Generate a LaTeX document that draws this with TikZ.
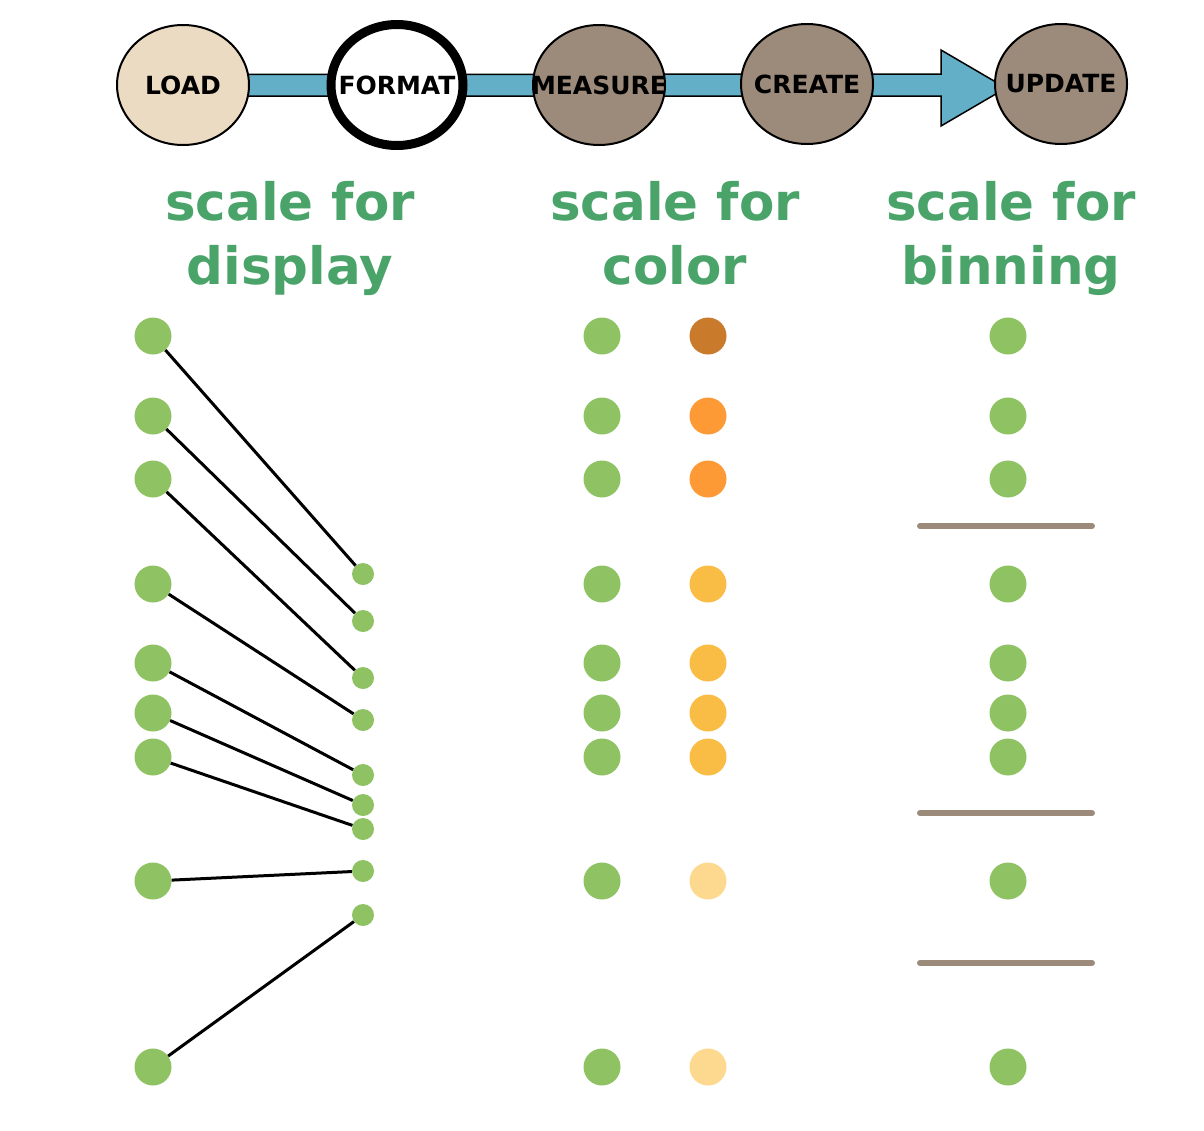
\documentclass[tikz,border=0pt]{standalone}
\usepackage{fontspec}
\setmainfont{DejaVu Sans}
\usetikzlibrary{shapes.geometric,backgrounds,calc}
\definecolor{dotgreen}{HTML}{8FC263}
\definecolor{txtgreen}{HTML}{4AA46A}
\definecolor{pipeblue}{HTML}{62AFC7}
\definecolor{loadfill}{HTML}{ECDBC3}
\definecolor{stagefill}{HTML}{9C8B7B}
\definecolor{binline}{HTML}{9C8B7B}
\definecolor{oA}{HTML}{C97A2A}
\definecolor{oB}{HTML}{FD9A36}
\definecolor{oC}{HTML}{F9BC45}
\definecolor{oD}{HTML}{FDD88F}
\newcommand{\zw}[1]{\makebox[0pt]{#1}}
\tikzset{
  stage/.style={ellipse, draw=black, line width=2pt, fill=stagefill, minimum width=132pt, minimum height=120pt, inner sep=0pt, font=\bfseries\fontsize{25}{25}\selectfont},
  bigdot/.style={circle, fill=dotgreen, minimum size=37pt, inner sep=0pt},
  smalldot/.style={circle, fill=dotgreen, minimum size=22pt, inner sep=0pt},
  cdot/.style={circle, minimum size=37pt, inner sep=0pt},
  link/.style={line width=3pt, black},
  binsep/.style={line width=6pt, binline, line cap=round},
  heading/.style={text=txtgreen, font=\bfseries\fontsize{51.5}{64}\selectfont, align=center}
}
\begin{document}
\begin{tikzpicture}[x=1pt,y=-1pt]
\useasboundingbox (0,0) rectangle (1204,1130);
% pipeline
\node[stage, fill=loadfill] (LOAD) at (183,85) {\zw{LOAD}};
\node[stage, fill=white, line width=9pt, minimum width=132pt, minimum height=121pt] (FORMAT) at (397,85) {\zw{FORMAT}};
\node[stage] (MEASURE) at (599,85) {\zw{MEASURE}};
\node[stage] (CREATE) at (807,84) {\zw{CREATE}};
\node[stage] (UPDATE) at (1061,84) {\zw{UPDATE}};
\begin{scope}[on background layer]
\filldraw[fill=pipeblue, draw=black, line width=1.5pt, line join=miter]
  ($(LOAD.center)+(0,-10.5)$) -- ($(UPDATE.west)+(-53,-10)$) -- ($(UPDATE.west)+(-53,-34)$)
  -- ($(UPDATE.west)+(12,4)$) -- ($(UPDATE.west)+(-53,42)$) -- ($(UPDATE.west)+(-53,12)$)
  -- ($(LOAD.center)+(0,11)$) -- cycle;
\end{scope}
% headings
\node[heading] (h1) at (290,238) {scale for\\display};
\node[heading] (h2) at (675,238) {scale for\\color\vphantom{y}};
\node[heading] (h3) at (1011,238) {scale for\\binning};
% dots
\foreach \i/\y in {1/336,2/416,3/479,4/584,5/663,6/713,7/757,8/881,9/1067}{
  \node[bigdot] (L\i) at (153,\y) {};
  \node[bigdot] (M\i) at (602,\y) {};
  \node[bigdot] (B\i) at (1008,\y) {};
}
\foreach \i/\y in {1/574,2/621,3/678,4/720,5/775,6/805,7/829,8/871,9/915}{
  \node[smalldot] (R\i) at (363,\y) {};
}
\foreach \i in {1,...,9}{ \draw[link] (L\i) -- (R\i); }
% color scale
\node[cdot, fill=oA] (C1) at (708,336) {};
\node[cdot, fill=oB] (C2) at (708,416) {};
\node[cdot, fill=oB] (C3) at (708,479) {};
\node[cdot, fill=oC] (C4) at (708,584) {};
\node[cdot, fill=oC] (C5) at (708,663) {};
\node[cdot, fill=oC] (C6) at (708,713) {};
\node[cdot, fill=oC] (C7) at (708,757) {};
\node[cdot, fill=oD] (C8) at (708,881) {};
\node[cdot, fill=oD] (C9) at (708,1067) {};
% binning separators
\coordinate (s1a) at (920,526); \coordinate (s1b) at (1092,526);
\coordinate (s2a) at (920,813); \coordinate (s2b) at (1092,813);
\coordinate (s3a) at (920,963); \coordinate (s3b) at (1092,963);
\draw[binsep] (s1a) -- (s1b);
\draw[binsep] (s2a) -- (s2b);
\draw[binsep] (s3a) -- (s3b);
\end{tikzpicture}
\end{document}
